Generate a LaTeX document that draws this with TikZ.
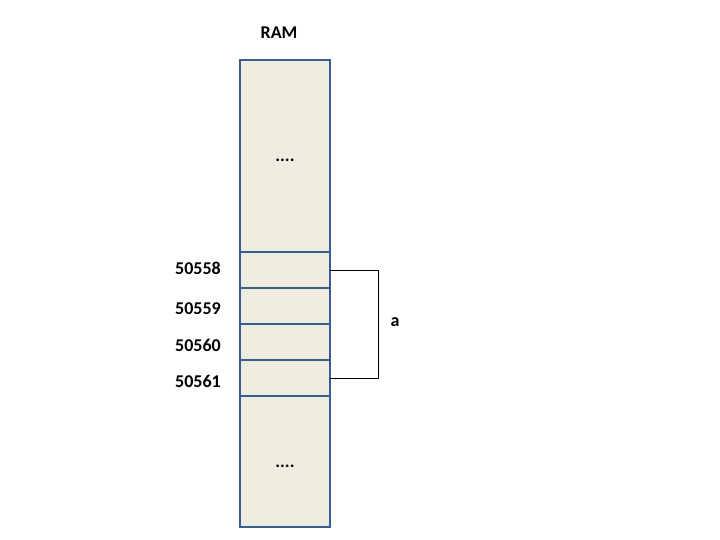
\documentclass[tikz,border=0pt]{standalone}
\usepackage{fontspec}
\setmainfont{Carlito}
\definecolor{cellfill}{HTML}{EEECE1}
\definecolor{celldraw}{HTML}{3A5F8E}
\begin{document}
\begin{tikzpicture}[x=1pt,y=-1pt,
  cell/.style={draw=celldraw,fill=cellfill,line width=1.8pt},
  lbl/.style={font=\fontsize{18}{21}\selectfont\bfseries,inner sep=0pt},
  dots/.style={font=\fontsize{18}{21}\selectfont\bfseries,inner sep=0pt},
  brace/.style={draw=black,line width=0.8pt}]
\useasboundingbox (0,0) rectangle (720,540);
\path[cell] (240,60) rectangle (330,252);
\path[cell] (240,252) rectangle (330,288);
\path[cell] (240,288) rectangle (330,324);
\path[cell] (240,324) rectangle (330,360);
\path[cell] (240,360) rectangle (330,396);
\path[cell] (240,396) rectangle (330,527);
\node[lbl] (ram) at (279,33) {RAM};
\node[dots] (d1) at (285,160) {....};
\node[dots] (d2) at (285,466) {....};
\node[lbl,anchor=east] (l1) at (221,268) {50558};
\node[lbl,anchor=east] (l2) at (221,309) {50559};
\node[lbl,anchor=east] (l3) at (221,345) {50560};
\node[lbl,anchor=east] (l4) at (221,381) {50561};
\coordinate (b1) at (330,270);
\coordinate (b2) at (378,270);
\coordinate (b3) at (378,378);
\coordinate (b4) at (330,378);
\draw[brace] (b1) -- (b2) -- (b3) -- (b4);
\node[lbl] (a) at (395,322) {a};
\end{tikzpicture}
\end{document}
